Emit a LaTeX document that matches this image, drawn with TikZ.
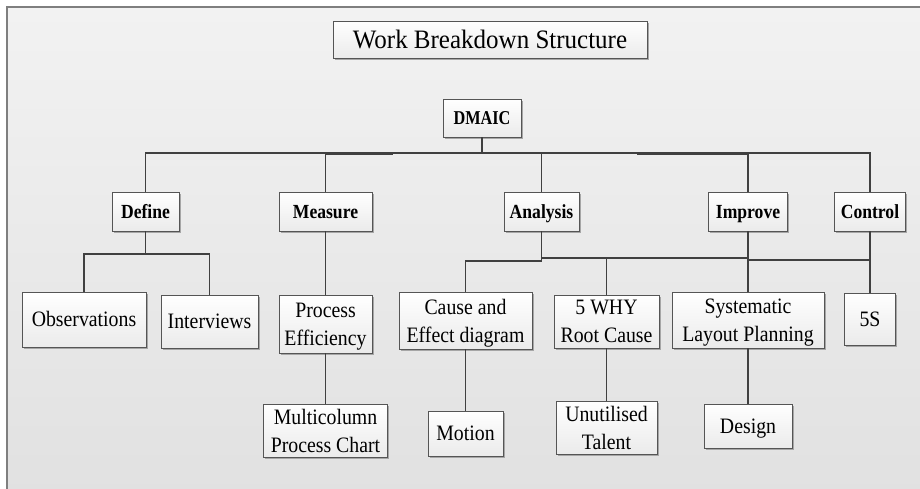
\documentclass[tikz,border=0pt]{standalone}
\usepackage{fontspec}
\setmainfont{Liberation Serif}[FakeStretch=0.9]
\newfontfamily\titlefont{Liberation Serif}[FakeStretch=0.94]
\newfontfamily\headfont{Liberation Serif}[FakeStretch=0.88]
\newfontfamily\dmaicfont{Liberation Serif}[FakeStretch=0.83]
\usetikzlibrary{shadows}
\definecolor{linecol}{HTML}{404040}
\definecolor{boxline}{HTML}{555555}
\definecolor{bgtop}{HTML}{F2F2F2}
\definecolor{bgbot}{HTML}{E1E1E1}
\definecolor{framecol}{HTML}{7F7F7F}
\tikzset{
  wh/.style 2 args={minimum width=#1pt, minimum height=#2pt},
  box/.style={draw=boxline, line width=0.9pt, top color=white, bottom color=black!8,
    inner sep=0pt, align=center, font=\fontsize{22}{28}\selectfont, text depth=0pt,
    drop shadow={shadow xshift=1.5pt, shadow yshift=-1.5pt, fill=black!35, opacity=1}},
  single/.style={text height=14.6pt, text depth=0pt},
  head/.style={box, font=\headfont\bfseries\fontsize{20}{24}\selectfont, text height=13.2pt, text depth=0pt},
  link/.style={draw=linecol, line width=1.4pt},
}
\begin{document}
\begin{tikzpicture}[x=1pt,y=-1pt]
\useasboundingbox (0,0) rectangle (920,488);
\fill[white] (0,0) rectangle (920,488);
\shade[top color=bgtop, bottom color=bgbot] (7,7) rectangle (930,498);
\draw[framecol, line width=1.5pt] (7,7) rectangle (930,498);

% nodes
\node[box, wh={314}{37}, font=\titlefont\fontsize{26.6}{30}\selectfont, text height=17.6pt, text depth=0pt] (title) at (490,39.5) {Work Breakdown Structure};
\node[head, wh={78}{38}, font=\dmaicfont\bfseries\fontsize{19.6}{22}\selectfont, text height=13pt] (dmaic) at (482,118) {DMAIC};

\node[head, wh={67}{39}] (define) at (145.5,211.5) {Define};
\node[head, wh={93}{39}] (measure) at (325.5,211.5) {Measure};
\node[head, wh={75}{39}] (analysis) at (541.5,211.5) {Analysis};
\node[head, wh={79}{39}] (improve) at (748,211.5) {Improve};
\node[head, wh={71}{39}] (control) at (870,211.5) {Control};

\node[box, single, wh={124}{55}] (obs) at (84,319.5) {Observations};
\node[box, single, wh={97}{53}] (int) at (209.5,321.5) {Interviews};
\node[box, wh={93}{58}] (pe) at (325.5,324) {Process\\Efficiency};
\node[box, wh={124}{53}] (multi) at (325.5,430.5) {Multicolumn\\Process Chart};
\node[box, wh={133}{57}] (cause) at (465.5,320.5) {Cause and\\Effect diagram};
\node[box, single, wh={75}{45}] (motion) at (465.5,433.5) {Motion};
\node[box, wh={105}{53}] (why) at (606.5,321.5) {5 WHY\\Root Cause};
\node[box, wh={101}{53}] (unut) at (606.5,427.5) {Unutilised\\Talent};
\node[box, wh={152}{56}] (sys) at (748,320) {Systematic\\Layout Planning};
\node[box, single, wh={88}{44}] (design) at (748,426) {Design};
\node[box, single, wh={51}{52}] (fives) at (870,319) {5S};

% junctions
\coordinate (bus) at (482,153);
\coordinate (defj) at (145.5,254);
\coordinate (anaj) at (541.5,258);
\coordinate (anal) at (541.5,261);
\coordinate (impj) at (748,260);

% connectors
\draw[link] (dmaic.south) -- (bus) -| (define.north);
\draw[link] (bus) -- (392,153) -- (392,154.5) -| (measure.north);
\draw[link] (bus) -| (analysis.north);
\draw[link] (bus) -- (638,153) -- (638,154.5) -| (improve.north);
\draw[link] (bus) -| (control.north);

\draw[link] (define.south) -- (defj) -| (obs.north);
\draw[link] (defj) -| (int.north);
\draw[link] (measure.south) -- (pe.north);
\draw[link] (pe.south) -- (multi.north);

\draw[link] (analysis.south) -- (anal) -| (cause.north);
\draw[link] (anaj) -| (why.north);
\draw[link] (anaj) -| (sys.north);
\draw[link] (improve.south) -- (sys.north);
\draw[link] (impj) -| (fives.north);
\draw[link] (control.south) -- (fives.north);

\draw[link] (cause.south) -- (motion.north);
\draw[link] (why.south) -- (unut.north);
\draw[link] (sys.south) -- (design.north);
\end{tikzpicture}
\end{document}
